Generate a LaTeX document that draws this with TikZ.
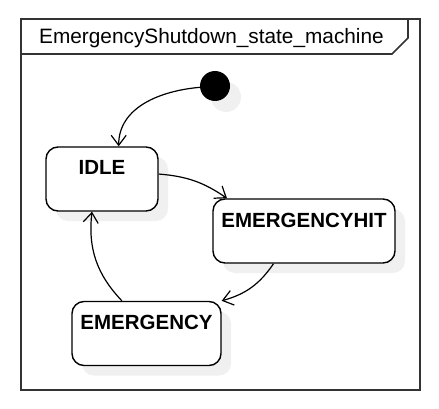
\documentclass[tikz,border=0pt]{standalone}
\usepackage{fontspec}
\setmainfont{Liberation Sans}
\usepackage{tikz}
\usetikzlibrary{arrows.meta,shadows,positioning}

\begin{document}
\begin{tikzpicture}[x=1pt, y=-1pt,
		state/.style={rectangle, draw, line width=1.4pt, rounded corners=12pt, fill=white,
			font=\fontsize{20.5}{24}\selectfont\bfseries, inner xsep=8pt, inner ysep=13pt,
			text height=15pt, text depth=23pt,
			general shadow={fill=black!6, shadow xshift=10pt, shadow yshift=-10pt}},
		trans/.style={line width=1.2pt, -{Straight Barb[length=10pt, width=15pt, line width=1.2pt]}}]
			\useasboundingbox (0,0) rectangle (439,409);
			
			% frame and its header
			\draw [line width=1.6pt, black!80] (21,19) rectangle (420,390);
			\draw [line width=1.6pt, black!80] (21,54) -- (392,54) -- (408,38) -- (408,19);
			\node (title) at (211.5,44) [anchor=base, font=\fontsize{20.8}{24}\selectfont] {EmergencyShutdown\_state\_machine};
			
			% states
			\node (init) at (215,86) [circle, fill, minimum size=30pt, inner sep=0pt,
				general shadow={fill=black!6, shadow xshift=11pt, shadow yshift=-11pt}] {};
			\node [state, minimum width=112pt] (idle) at (102,179) {IDLE};
			\node [state, minimum width=182pt] (emhit) at (304,231) {EMERGENCYHIT};
			\node [state, minimum width=149pt] (emerg) at (146.5,333.5) {EMERGENCY};
			
			% transitions
			\draw [trans] (init.185) to[out=185, in=90] (idle.63);
			\draw [trans] (idle.5) to[bend left=15] (emhit.157);
			\draw [trans] (emhit.227) to[bend left=20] (emerg.north east);
			\draw [trans] (emerg.127) to[bend left=25] (idle.253);
		\end{tikzpicture}
\end{document}
